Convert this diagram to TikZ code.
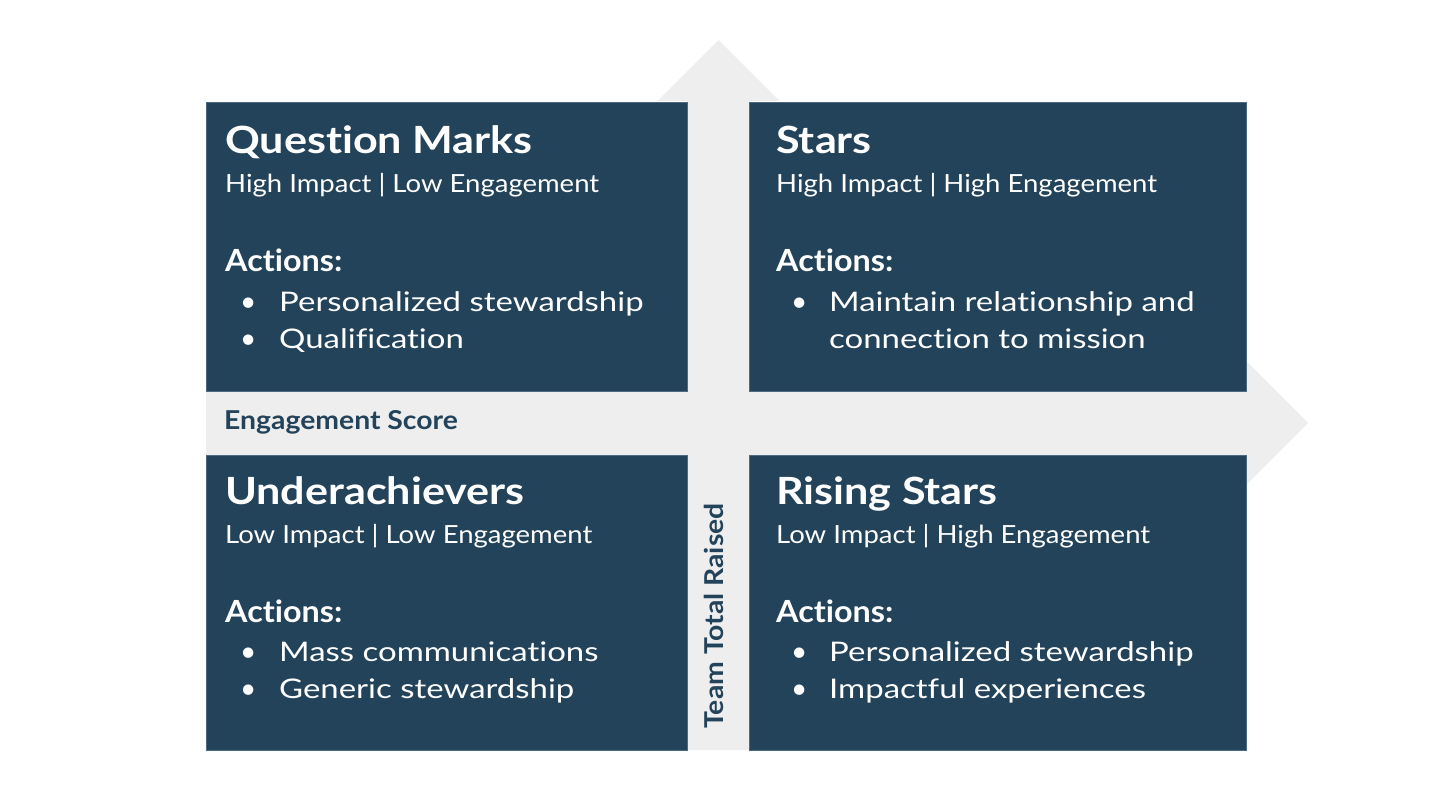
\documentclass[tikz,border=0pt]{standalone}
\usepackage{fontspec}
\setmainfont[Ligatures=NoCommon]{Lato}
\newfontfamily\fTitle[FakeStretch=1.15,Ligatures=NoCommon]{Lato}
\newfontfamily\fSub[FakeStretch=1.10,Ligatures=NoCommon]{Lato}
\newfontfamily\fAct[FakeStretch=1.06,Ligatures=NoCommon]{Lato}
\newfontfamily\fItem[FakeStretch=1.22,Ligatures=NoCommon]{Lato}
\newfontfamily\fAxis[FakeStretch=1.09,Ligatures=NoCommon]{Lato}
\definecolor{navy}{HTML}{23435A}
\definecolor{navyedge}{HTML}{4E6A7E}
\definecolor{band}{HTML}{EEEEEE}
\begin{document}
\begin{tikzpicture}[x=1pt,y=-1pt,
  quad/.style={draw=navyedge, line width=0.8pt, fill=navy, anchor=north west, inner sep=0, minimum width=#1},
  ttl/.style={anchor=base west, inner sep=0, text=white, font=\fTitle\bfseries\fontsize{37.5}{44}\selectfont},
  sub/.style={anchor=base west, inner sep=0, text=white, font=\fSub\fontsize{25}{30}\selectfont},
  act/.style={anchor=base west, inner sep=0, text=white, font=\fAct\bfseries\fontsize{30.5}{36}\selectfont},
  itm/.style={anchor=base west, inner sep=0, text=white, font=\fItem\fontsize{27}{32}\selectfont},
  bul/.style={anchor=base west, inner sep=0, text=white, font=\fontsize{28}{32}\selectfont},
  axis/.style={inner sep=0, text=navy, font=\fAxis\bfseries\fontsize{26}{30}\selectfont}]
\useasboundingbox (0,0) rectangle (1430,805);
\fill[white] (0,0) rectangle (1430,805);
% arrows (bands)
\fill[band] (687,750) -- (687,101) -- (657.5,101) -- (718.5,40) -- (779.5,101) -- (750,101) -- (750,750) -- cycle;
\fill[band] (206,391) -- (1247,391) -- (1247,362) -- (1308,423) -- (1247,484) -- (1247,455) -- (206,455) -- cycle;
% boxes
\node[quad=481pt, minimum height=289pt] (qm) at (206,102) {};
\node[quad=497pt, minimum height=289pt] (st) at (749,102) {};
\node[quad=481pt, minimum height=295pt] (ua) at (206,455) {};
\node[quad=497pt, minimum height=295pt] (rs) at (749,455) {};
% Question Marks
\node[ttl] (qmT) at (225,154) {Question Marks};
\node[sub] (qmS) at (225,193) {High Impact | Low Engagement};
\node[act] (qmA) at (225,272) {Actions:};
\node[bul] (qmB1) at (240,311) {•};
\node[itm] (qmI1) at (279,311) {Personalized stewardship};
\node[bul] (qmB2) at (240,348) {•};
\node[itm] (qmI2) at (279,348) {Qualification};
% Stars
\node[ttl] (stT) at (776,154) {Stars};
\node[sub] (stS) at (776,193) {High Impact | High Engagement};
\node[act] (stA) at (776,272) {Actions:};
\node[bul] (stB1) at (791,311) {•};
\node[itm] (stI1) at (829,311) {Maintain relationship and};
\node[itm] (stI2) at (829,348) {connection to mission};
% Underachievers
\node[ttl] (uaT) at (225,504) {Underachievers};
\node[sub] (uaS) at (225,543) {Low Impact | Low Engagement};
\node[act] (uaA) at (225,622) {Actions:};
\node[bul] (uaB1) at (240,661) {•};
\node[itm] (uaI1) at (279,661) {Mass communications};
\node[bul] (uaB2) at (240,698) {•};
\node[itm] (uaI2) at (279,698) {Generic stewardship};
% Rising Stars
\node[ttl] (rsT) at (776,504) {Rising Stars};
\node[sub] (rsS) at (776,543) {Low Impact | High Engagement};
\node[act] (rsA) at (776,622) {Actions:};
\node[bul] (rsB1) at (791,661) {•};
\node[itm] (rsI1) at (829,661) {Personalized stewardship};
\node[bul] (rsB2) at (791,698) {•};
\node[itm] (rsI2) at (829,698) {Impactful experiences};
% axis labels
\node[axis, anchor=base west] (eng) at (224,429) {Engagement Score};
\node[axis, rotate=90] (team) at (714,616) {Team Total Raised};
\end{tikzpicture}
\end{document}
